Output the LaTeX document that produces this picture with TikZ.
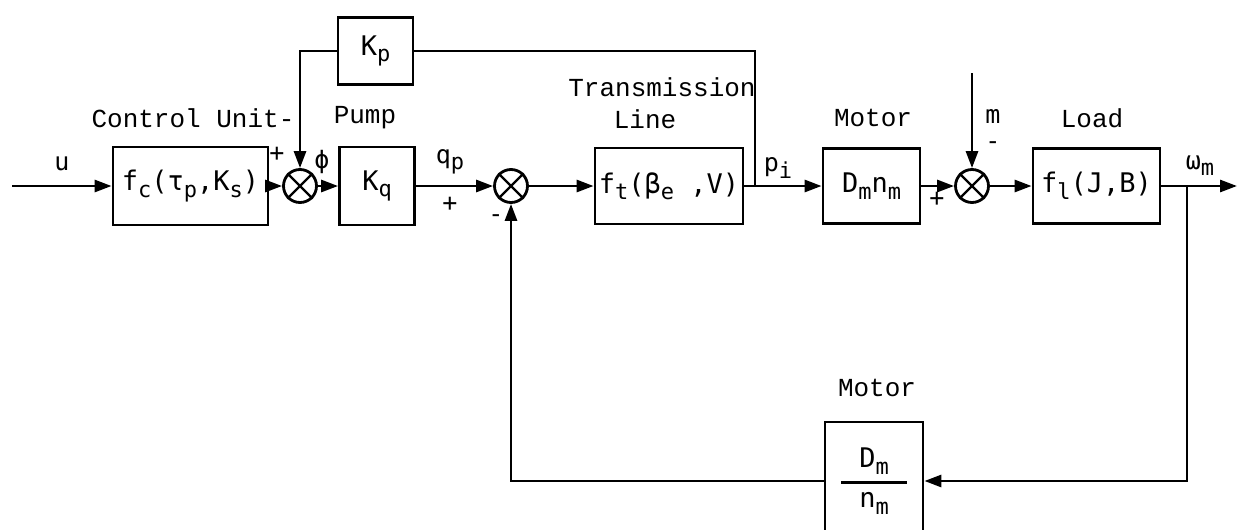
\documentclass[tikz,border=0pt]{standalone}
\usepackage{fontspec}
\setmainfont{Liberation Mono}
\newfontfamily\blkfont{DejaVu Sans Mono}
\usetikzlibrary{arrows.meta}
\newcommand{\dn}[1]{\raisebox{-0.45ex}{\fontsize{22}{22}\selectfont #1}}

\begin{document}
\begin{tikzpicture}[x=1pt,y=-1pt,line width=2.8pt,>={Triangle[length=17pt,width=12pt]},
    blk/.style={draw,inner sep=0pt,font=\blkfont\fontsize{27}{30}\selectfont},
    sumj/.style={draw,circle,minimum size=33pt,inner sep=0pt},
    lbl/.style={font=\fontsize{26}{28}\selectfont},
    sym/.style={font=\blkfont\fontsize{25}{28}\selectfont}]
        \useasboundingbox (0,0) rectangle (1237,530);
        \clip (0,0) rectangle (1237,530);
        % --- blocchi ---
        \node[blk,minimum width=155pt,minimum height=78pt] (fc) at (190.5,186) {f\dn{c}(τ\dn{p},K\dn{s})};
        \node[blk,minimum width=75pt,minimum height=78pt] (Kq) at (377,186) {K\dn{q}};
        \node[blk,minimum width=75pt,minimum height=67pt] (Kp) at (375.5,51) {K\dn{p}};
        \node[blk,minimum width=148pt,minimum height=76pt] (ft) at (669,186) {f\dn{t}(β\dn{e} ,V)};
        \node[blk,minimum width=97pt,minimum height=75pt] (Dm) at (871.5,186) {D\dn{m}n\dn{m}};
        \node[blk,minimum width=127pt,minimum height=75pt] (fl) at (1096.5,186) {f\dn{l}(J,B)};
        \node[blk,minimum width=98pt,minimum height=118pt,align=center] (Dm2) at (874,481)
            {D\dn{m}\\[-14pt]\rule{66pt}{2.6pt}\\[-6pt]n\dn{m}};
        % --- sommatori ---
        \node[sumj] (s1) at (300,186) {};
        \node[sumj] (s2) at (511,186) {};
        \node[sumj] (s3) at (972,186) {};
        \foreach \s in {s1,s2,s3}{\draw[line width=2.4pt] (\s.north east) -- (\s.south west) (\s.north west) -- (\s.south east);}
        % --- punti liberi ---
        \coordinate (in) at (12,186);
        \coordinate (pj) at (755,186);
        \coordinate (mi) at (972,73);
        \coordinate (wo) at (1187,186);
        \coordinate (out) at (1237,186);
        % --- catena diretta ---
        \draw[->] (in) -- (fc);
        \draw[->] (fc) -- (s1);
        \draw[->] (s1) -- (Kq);
        \draw[->] (Kq) -- (s2);
        \draw[->] (s2) -- (ft);
        \draw[->] (ft) -- (Dm);
        \draw[->] (Dm) -- (s3);
        \draw[->] (mi) -- (s3);
        \draw[->] (s3) -- (fl);
        \draw[->] (fl) -- (out);
        % --- anelli di retroazione ---
        \draw (pj) |- (Kp);
        \draw[->] (Kp) -| (s1);
        \draw[->] (wo) |- (Dm2);
        \draw[->] (Dm2) -| (s2);
        % --- etichette ---
        \node[lbl] (lcu) at (193,118) {Control Unit-};
        \node[lbl] (lpu) at (365,118) {Pump};
        \node[lbl] (ltr) at (662,87) {Transmission};
        \node[lbl] (lli) at (645,119) {Line};
        \node[lbl] (lmo) at (873,118) {Motor};
        \node[lbl] (llo) at (1092,118) {Load};
        \node[lbl] (lmb) at (877,388) {Motor};
        \node[sym] (lu) at (62,164) {u};
        \node[sym] (lphi) at (322,162) {ϕ};
        \node[sym] (lqp) at (450,162) {q\dn{p}};
        \node[sym] (lpi) at (778,168) {p\dn{i}};
        \node[sym] (lm) at (993,116) {m};
        \node[sym] (lw) at (1200,166) {ω\dn{m}};
        \node[sym] (p1) at (277,154) {+};
        \node[sym] (p2) at (450,204) {+};
        \node[sym] (m2) at (496,219) {-};
        \node[sym] (p3) at (937,199) {+};
        \node[sym] (m3) at (993,146) {-};
\end{tikzpicture}
\end{document}
